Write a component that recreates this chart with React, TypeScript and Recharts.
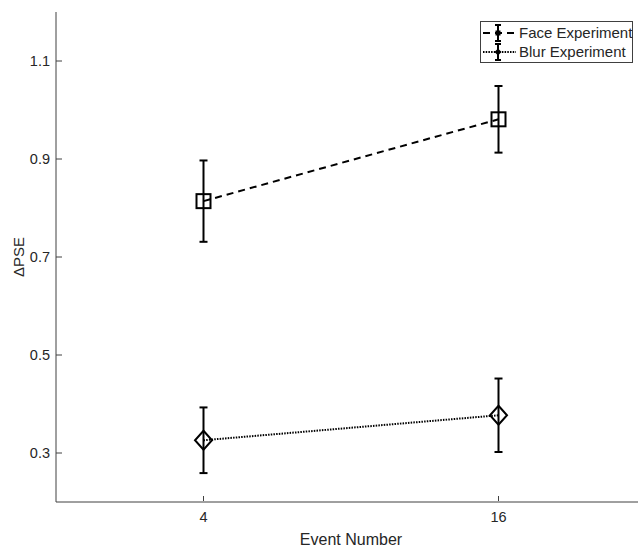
import React from 'react';
import { ComposedChart, Line, XAxis, YAxis, ErrorBar } from 'recharts';

const eventNumbers = ['4', '16'];
const eventPositions = [1, 2];
const faceMeans = [0.814, 0.981];
const faceErrors = [0.083, 0.068];
const blurMeans = [0.326, 0.377];
const blurErrors = [0.067, 0.075];
const yTicks = [0.3, 0.5, 0.7, 0.9, 1.1];

const data = eventPositions.map((pos, i) => ({
  pos,
  face: faceMeans[i],
  faceErr: faceErrors[i],
  blur: blurMeans[i],
  blurErr: blurErrors[i],
}));

const axisColor = '#404040';
const textColor = '#262626';
const font = '"Liberation Sans", Arial, Helvetica, sans-serif';

const SquareDot = (props: any) => {
  const { cx, cy } = props;
  if (cx == null || cy == null) return null;
  return <rect x={cx - 7} y={cy - 7} width={14} height={14} fill="none" stroke="#000" strokeWidth={2} />;
};

const DiamondDot = (props: any) => {
  const { cx, cy } = props;
  if (cx == null || cy == null) return null;
  const pts = `${cx},${cy - 9.5} ${cx + 8.5},${cy} ${cx},${cy + 9.5} ${cx - 8.5},${cy}`;
  return <polygon points={pts} fill="none" stroke="#000" strokeWidth={2} />;
};

const YTick = ({ x, y, payload }: any) => (
  <g>
    <line x1={x + 6} x2={x + 12} y1={y} y2={y} stroke={axisColor} />
    <text x={x} y={y} dy="0.35em" textAnchor="end" fill={textColor} fontSize={14.5} fontFamily={font}>
      {Number(payload.value).toFixed(1)}
    </text>
  </g>
);

const XTick = ({ x, y, payload }: any) => (
  <g>
    <line x1={x} x2={x} y1={y - 11} y2={y - 16} stroke={axisColor} />
    <text x={x} y={y} dy="0.71em" textAnchor="middle" fill={textColor} fontSize={14.5} fontFamily={font}>
      {eventNumbers[eventPositions.indexOf(payload.value)]}
    </text>
  </g>
);

const TopTick = ({ x, y }: any) => (
  <line x1={x} x2={x} y1={y} y2={y + 5} stroke={axisColor} />
);

const LegendBox = () => (
  <svg
    width={153}
    height={42}
    style={{ position: 'absolute', left: 480, top: 21 }}
  >
    <rect x={0.5} y={0.5} width={152} height={41} fill="#fff" stroke={axisColor} />
    {/* face row */}
    <line x1={3} x2={36} y1={12} y2={12} stroke="#000" strokeWidth={2} strokeDasharray="7 5" />
    <line x1={18} x2={18} y1={4} y2={20} stroke="#000" strokeWidth={2} />
    <line x1={15} x2={21} y1={4} y2={4} stroke="#000" strokeWidth={2} />
    <line x1={15} x2={21} y1={20} y2={20} stroke="#000" strokeWidth={2} />
    <rect x={15.5} y={9.5} width={5} height={5} fill="#000" />
    <text x={39} y={12} dy="0.35em" fill={textColor} fontSize={15} fontFamily={font}>Face Experiment</text>
    {/* blur row */}
    <line x1={3} x2={36} y1={31} y2={31} stroke="#000" strokeWidth={2} strokeDasharray="1.5 1.2" />
    <line x1={18} x2={18} y1={23} y2={39} stroke="#000" strokeWidth={2} />
    <line x1={15} x2={21} y1={23} y2={23} stroke="#000" strokeWidth={2} />
    <line x1={15} x2={21} y1={39} y2={39} stroke="#000" strokeWidth={2} />
    <polygon points="18,27.5 21.5,31 18,34.5 14.5,31" fill="#000" />
    <text x={39} y={31} dy="0.35em" fill={textColor} fontSize={15} fontFamily={font}>Blur Experiment</text>
  </svg>
);

export default function App() {
  return (
    <div
      style={{
        position: 'absolute',
        left: 0,
        top: 0,
        width: 638,
        height: 547,
        overflow: 'hidden',
        background: '#fff',
        fontFamily: font,
      }}
    >
      <ComposedChart width={700} height={547} data={data} margin={{ top: 12, right: 54, bottom: 0, left: 0 }}>
        <XAxis
          xAxisId="bottom"
          dataKey="pos"
          type="number"
          domain={[0.5, 2.5]}
          ticks={eventPositions}
          height={45}
          stroke={axisColor}
          tickLine={false}
          tickSize={0}
          tickMargin={10}
          tick={<XTick />}
          label={{
            content: ({ viewBox }: any) => (
              <text
                x={viewBox.x + viewBox.width / 2}
                y={545}
                textAnchor="middle"
                fill={textColor}
                fontSize={16}
                fontFamily={font}
              >
                Event Number
              </text>
            ),
          }}
        />
        <XAxis
          xAxisId="top"
          orientation="top"
          dataKey="pos"
          type="number"
          domain={[0.5, 2.5]}
          ticks={eventPositions}
          height={0}
          stroke={axisColor}
          tickLine={false}
          tickSize={0}
          tickMargin={0}
          tick={<TopTick />}
        />
        <YAxis
          type="number"
          domain={[0.2, 1.2]}
          ticks={yTicks}
          width={56}
          stroke={axisColor}
          tickLine={false}
          tickSize={0}
          tickMargin={6}
          tick={<YTick />}
          label={{
            content: ({ viewBox }: any) => {
              const cy = viewBox.y + viewBox.height / 2;
              return (
                <text
                  x={24}
                  y={cy}
                  transform={`rotate(-90 24 ${cy})`}
                  textAnchor="middle"
                  fill={textColor}
                  fontSize={15}
                  fontFamily={font}
                >
                  ΔPSE
                </text>
              );
            },
          }}
        />
        <Line
          xAxisId="bottom"
          dataKey="face"
          type="linear"
          stroke="#000"
          strokeWidth={2}
          strokeDasharray="7 5"
          dot={(p: any) => <SquareDot key={`f-${p.index}`} {...p} />}
          activeDot={false}
          isAnimationActive={false}
        >
          <ErrorBar dataKey="faceErr" direction="y" width={4} strokeWidth={2} stroke="#000" />
        </Line>
        <Line
          xAxisId="bottom"
          dataKey="blur"
          type="linear"
          stroke="#000"
          strokeWidth={2}
          strokeDasharray="1.5 1.2"
          dot={(p: any) => <DiamondDot key={`b-${p.index}`} {...p} />}
          activeDot={false}
          isAnimationActive={false}
        >
          <ErrorBar dataKey="blurErr" direction="y" width={4} strokeWidth={2} stroke="#000" />
        </Line>
      </ComposedChart>
      <LegendBox />
    </div>
  );
}
